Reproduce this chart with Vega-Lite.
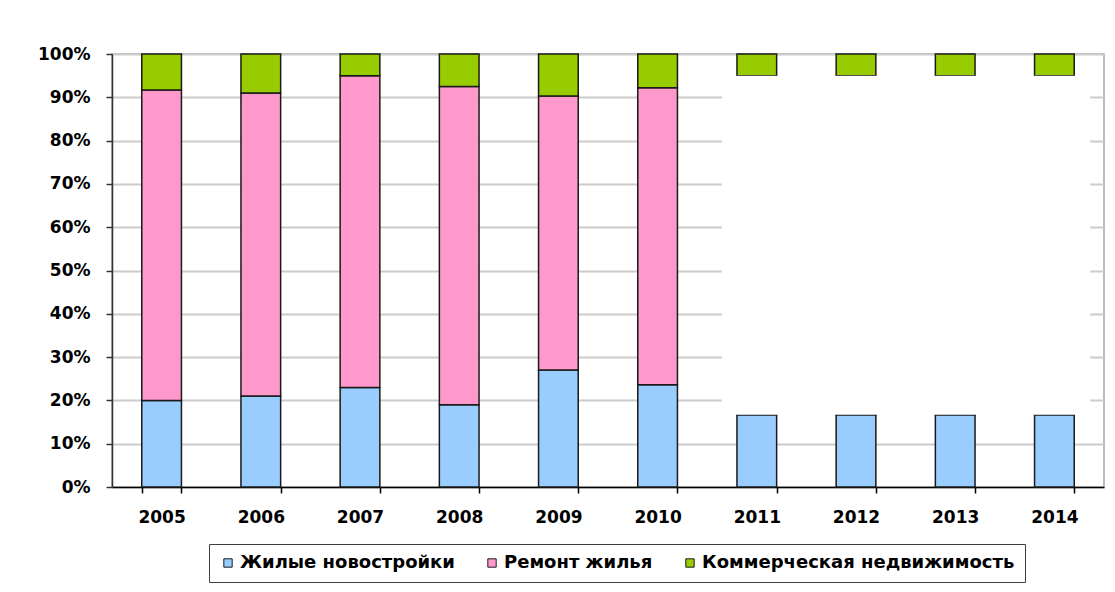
{
  "$schema": "https://vega.github.io/schema/vega-lite/v6.json",
  "autosize": "none",
  "width": 992,
  "height": 433,
  "padding": {"left": 112, "top": 54, "right": 11, "bottom": 105},
  "background": "white",
  "config": {
    "view": {"stroke": "#a6a6a6", "strokeWidth": 1.5},
    "font": "DejaVu Sans"
  },
  "data": {
    "values": [
      {"year": "2005", "cat": "Жилые новостройки", "value": 20},
      {"year": "2005", "cat": "Ремонт жилья", "value": 71.7},
      {"year": "2005", "cat": "Коммерческая недвижимость", "value": 8.3},
      {"year": "2006", "cat": "Жилые новостройки", "value": 21},
      {"year": "2006", "cat": "Ремонт жилья", "value": 70},
      {"year": "2006", "cat": "Коммерческая недвижимость", "value": 9},
      {"year": "2007", "cat": "Жилые новостройки", "value": 23},
      {"year": "2007", "cat": "Ремонт жилья", "value": 72},
      {"year": "2007", "cat": "Коммерческая недвижимость", "value": 5},
      {"year": "2008", "cat": "Жилые новостройки", "value": 19},
      {"year": "2008", "cat": "Ремонт жилья", "value": 73.5},
      {"year": "2008", "cat": "Коммерческая недвижимость", "value": 7.5},
      {"year": "2009", "cat": "Жилые новостройки", "value": 27},
      {"year": "2009", "cat": "Ремонт жилья", "value": 63.3},
      {"year": "2009", "cat": "Коммерческая недвижимость", "value": 9.7},
      {"year": "2010", "cat": "Жилые новостройки", "value": 23.6},
      {"year": "2010", "cat": "Ремонт жилья", "value": 68.6},
      {"year": "2010", "cat": "Коммерческая недвижимость", "value": 7.8},
      {"year": "2011", "cat": "Жилые новостройки", "value": 16.7},
      {"year": "2011", "cat": "Ремонт жилья", "value": 78.3},
      {"year": "2011", "cat": "Коммерческая недвижимость", "value": 5},
      {"year": "2012", "cat": "Жилые новостройки", "value": 16.7},
      {"year": "2012", "cat": "Ремонт жилья", "value": 78.3},
      {"year": "2012", "cat": "Коммерческая недвижимость", "value": 5},
      {"year": "2013", "cat": "Жилые новостройки", "value": 16.7},
      {"year": "2013", "cat": "Ремонт жилья", "value": 78.3},
      {"year": "2013", "cat": "Коммерческая недвижимость", "value": 5},
      {"year": "2014", "cat": "Жилые новостройки", "value": 16.7},
      {"year": "2014", "cat": "Ремонт жилья", "value": 78.3},
      {"year": "2014", "cat": "Коммерческая недвижимость", "value": 5}
    ]
  },
  "layer": [
    {
      "transform": [
        {"calculate": "indexof(['Жилые новостройки', 'Ремонт жилья', 'Коммерческая недвижимость'], datum.cat)", "as": "k"}
      ],
      "mark": {"type": "bar", "stroke": "#1a1a1a", "strokeWidth": 1.5},
      "encoding": {
        "x": {
          "field": "year",
          "type": "ordinal",
          "scale": {"paddingInner": 0.6, "paddingOuter": 0.3},
          "axis": {
            "title": null,
            "labelAngle": 0,
            "labelFont": "DejaVu Sans",
            "labelFontWeight": "bold",
            "labelFontSize": 17,
            "labelColor": "black",
            "labelPadding": 16,
            "domainColor": "black",
            "domainWidth": 1.5,
            "tickColor": "black",
            "tickWidth": 1.5,
            "tickSize": 6,
            "tickBand": "extent",
            "grid": false
          }
        },
        "y": {
          "field": "value",
          "type": "quantitative",
          "stack": "zero",
          "scale": {"domain": [0, 100], "nice": false},
          "axis": {
            "title": null,
            "values": [0, 10, 20, 30, 40, 50, 60, 70, 80, 90, 100],
            "labelExpr": "datum.value + '%'",
            "labelFont": "DejaVu Sans",
            "labelFontWeight": "bold",
            "labelFontSize": 17,
            "labelColor": "black",
            "labelPadding": 16,
            "domainColor": "#333333",
            "domainWidth": 1.5,
            "tickColor": "#333333",
            "tickWidth": 1.5,
            "tickSize": 6,
            "grid": true,
            "gridColor": "#cccccc",
            "gridWidth": 2
          }
        },
        "order": {"field": "k", "type": "quantitative", "sort": "ascending"},
        "color": {
          "field": "cat",
          "type": "nominal",
          "sort": ["Жилые новостройки", "Ремонт жилья", "Коммерческая недвижимость"],
          "scale": {
            "domain": ["Жилые новостройки", "Ремонт жилья", "Коммерческая недвижимость"],
            "range": ["#99ccff", "#ff99cc", "#99cc00"]
          },
          "legend": {
            "title": null,
            "orient": "none",
            "legendX": 97,
            "legendY": 490,
            "direction": "horizontal",
            "strokeColor": "#404040",
            "padding": 10,
            "columnPadding": 28,
            "labelOffset": 3,
            "labelLimit": 0,
            "labelFont": "DejaVu Sans",
            "labelFontWeight": "bold",
            "labelFontSize": 18,
            "labelColor": "black",
            "symbolType": "square",
            "symbolSize": 70,
            "symbolStrokeColor": "#1a1a1a",
            "symbolStrokeWidth": 1
          }
        }
      }
    },
    {
      "data": {"values": [{}]},
      "mark": {"type": "rect", "fill": "white", "xOffset": -15, "x2Offset": 16},
      "encoding": {
        "x": {"datum": "2011", "type": "ordinal", "bandPosition": 0},
        "x2": {"datum": "2014", "bandPosition": 1},
        "y": {"datum": 95, "type": "quantitative"},
        "y2": {"datum": 16.7}
      }
    }
  ]
}
